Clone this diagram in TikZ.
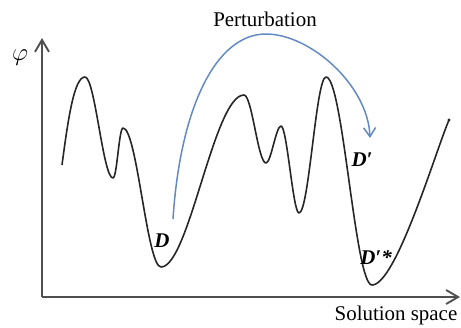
\documentclass[tikz,border=0pt]{standalone}
\usepackage{fontspec}
\setmainfont{Liberation Serif}
\usetikzlibrary{arrows.meta}
\definecolor{pertblue}{RGB}{100,138,196}
\definecolor{axisgray}{RGB}{80,80,80}
\begin{document}
\begin{tikzpicture}[x=1bp,y=-1bp,
  axis/.style={draw=axisgray,line width=1.9bp,-{Straight Barb[length=12bp,width=14bp,line width=1.9bp]}},
  landscape/.style={draw=black!85,line width=1.6bp,line join=round},
  pert/.style={draw=pertblue,line width=1.5bp,-{Straight Barb[length=9bp,width=12bp,line width=1.5bp]}},
  lbl/.style={font=\fontsize{21}{24}\selectfont\bfseries\itshape,inner sep=0pt},
  txt/.style={font=\fontsize{21}{24}\selectfont,inner sep=0pt}]
\useasboundingbox (0,0) rectangle (461,327);
% axes
\coordinate (O) at (42,297);
\coordinate (ytop) at (42,38);
\coordinate (xend) at (460,297);
\draw[axis] (O) -- (ytop);
\draw[axis] (O) -- (xend);
\node[inner sep=0pt,font=\fontsize{27}{30}\selectfont] (phi) at (20,58) {$\varphi$};
\node[txt] (sol) at (396,315) {Solution space};
\node[txt] (pt) at (265,19) {Perturbation};
% landscape curve
\draw[landscape] (62,165)
  .. controls (68,120) and (74,77) .. (85,77)
  .. controls (95,77) and (103,178) .. (113,178)
  .. controls (117,178) and (119,128) .. (123,128)
  .. controls (137,128) and (147,267) .. (161,267)
  .. controls (189,267) and (214,95) .. (244,95)
  .. controls (252,95) and (258,163) .. (266,163)
  .. controls (271,163) and (276,126) .. (281,126)
  .. controls (287,126) and (293,213) .. (299,213)
  .. controls (309,213) and (316,77) .. (326,77)
  .. controls (343,77) and (355,285) .. (372,285)
  .. controls (396,285) and (436,150) .. (449,120);
\fill[black!85] (449,120) circle (1.6bp);
% labels
\node[lbl] (D) at (162,241) {D};
\node[lbl] (Dp) at (362,160) {D′};
\node[lbl] (Dps) at (376,258) {D′*};
% perturbation arrow
\coordinate (ps) at (173,219);
\coordinate (ptop) at (266,34);
\coordinate (pe) at (370,138);
\draw[pert] (ps) .. controls (180,110) and (215,34) .. (ptop)
  .. controls (310,34) and (368,85) .. (pe);
\end{tikzpicture}
\end{document}
